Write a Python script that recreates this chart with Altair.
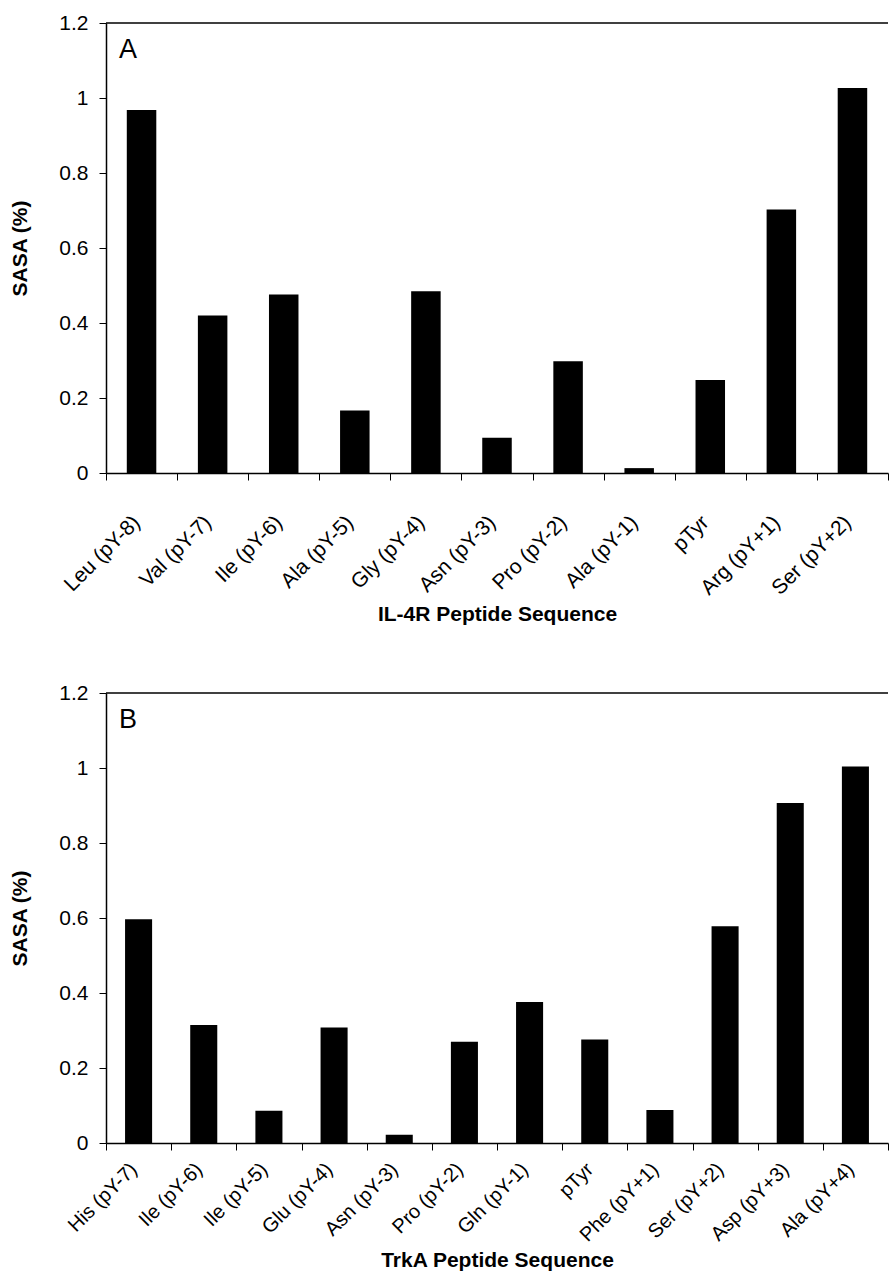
import altair as alt
import pandas as pd

# Panel A: IL-4R
cats_a = ["Leu (pY-8)", "Val (pY-7)", "Ile (pY-6)", "Ala (pY-5)", "Gly (pY-4)",
          "Asn (pY-3)", "Pro (pY-2)", "Ala (pY-1)", "pTyr", "Arg (pY+1)", "Ser (pY+2)"]
vals_a = [0.968, 0.42, 0.476, 0.167, 0.485, 0.094, 0.298, 0.013, 0.248, 0.703, 1.027]

# Panel B: TrkA
cats_b = ["His (pY-7)", "Ile (pY-6)", "Ile (pY-5)", "Glu (pY-4)", "Asn (pY-3)", "Pro (pY-2)",
          "Gln (pY-1)", "pTyr", "Phe (pY+1)", "Ser (pY+2)", "Asp (pY+3)", "Ala (pY+4)"]
vals_b = [0.597, 0.315, 0.086, 0.308, 0.022, 0.27, 0.376, 0.276, 0.088, 0.578, 0.907, 1.004]

y_ticks = [0, 0.2, 0.4, 0.6, 0.8, 1.0, 1.2]

FONT = "Liberation Sans"
W = 782
H = 450


def panel(cats, vals, letter, xtitle, lab_size, lab_pad, title_pad):
    df = pd.DataFrame({"cat": cats, "val": vals})
    bars = alt.Chart(df).mark_bar(color="black", width=alt.RelativeBandSize(0.415)).encode(
        x=alt.X("cat:N", sort=cats,
                scale=alt.Scale(paddingInner=0, paddingOuter=0),
                axis=alt.Axis(title=xtitle, labelAngle=-45, labelAlign="right",
                              labelBaseline="middle", tickBand="extent", grid=False,
                              labelPadding=lab_pad, labelOffset=-5, tickSize=7,
                              titlePadding=title_pad,
                              labelFontSize=lab_size, titleFontSize=21, titleFontWeight="bold",
                              labelFont=FONT, titleFont=FONT, labelColor="black",
                              titleColor="black", domainColor="black", tickColor="black",
                              domainWidth=1.5, labelOverlap=False)),
        y=alt.Y("val:Q", scale=alt.Scale(domain=[0, 1.2], nice=False),
                axis=alt.Axis(title="SASA (%)", values=y_ticks,
                              labelExpr="toString(round(datum.value*10)/10)",
                              tickSize=7, labelPadding=11, titlePadding=28,
                              labelFontSize=21, titleFontSize=21, titleFontWeight="bold",
                              labelFont=FONT, titleFont=FONT, labelColor="black",
                              titleColor="black", domainColor="black", tickColor="black",
                              domainWidth=1.5, grid=False)),
    )
    top_line = alt.Chart(pd.DataFrame({"k": [0]})).mark_rule(color="black", strokeWidth=1.5).encode(
        y=alt.value(0), x=alt.value(0), x2=alt.value(W)
    )
    lab = alt.Chart(pd.DataFrame({"label": [letter]})).mark_text(
        font=FONT, fontSize=27, align="left", baseline="alphabetic", color="black"
    ).encode(text="label:N", x=alt.value(13), y=alt.value(35))
    return alt.layer(bars, top_line, lab).properties(
        width=W, height=H, view=alt.ViewBackground(strokeOpacity=0, strokeWidth=0)
    )


chart = alt.vconcat(
    panel(cats_a, vals_a, "A", "IL-4R Peptide Sequence", 21, 39, 5),
    panel(cats_b, vals_b, "B", "TrkA Peptide Sequence", 20, 16, 4),
    spacing=57,
).properties(
    padding={"top": 12, "left": 9, "right": 0, "bottom": 0}
).configure_view(strokeWidth=0, strokeOpacity=0).configure(background="white")

chart.save("out.html", embed_options={"renderer": "svg", "actions": False})
